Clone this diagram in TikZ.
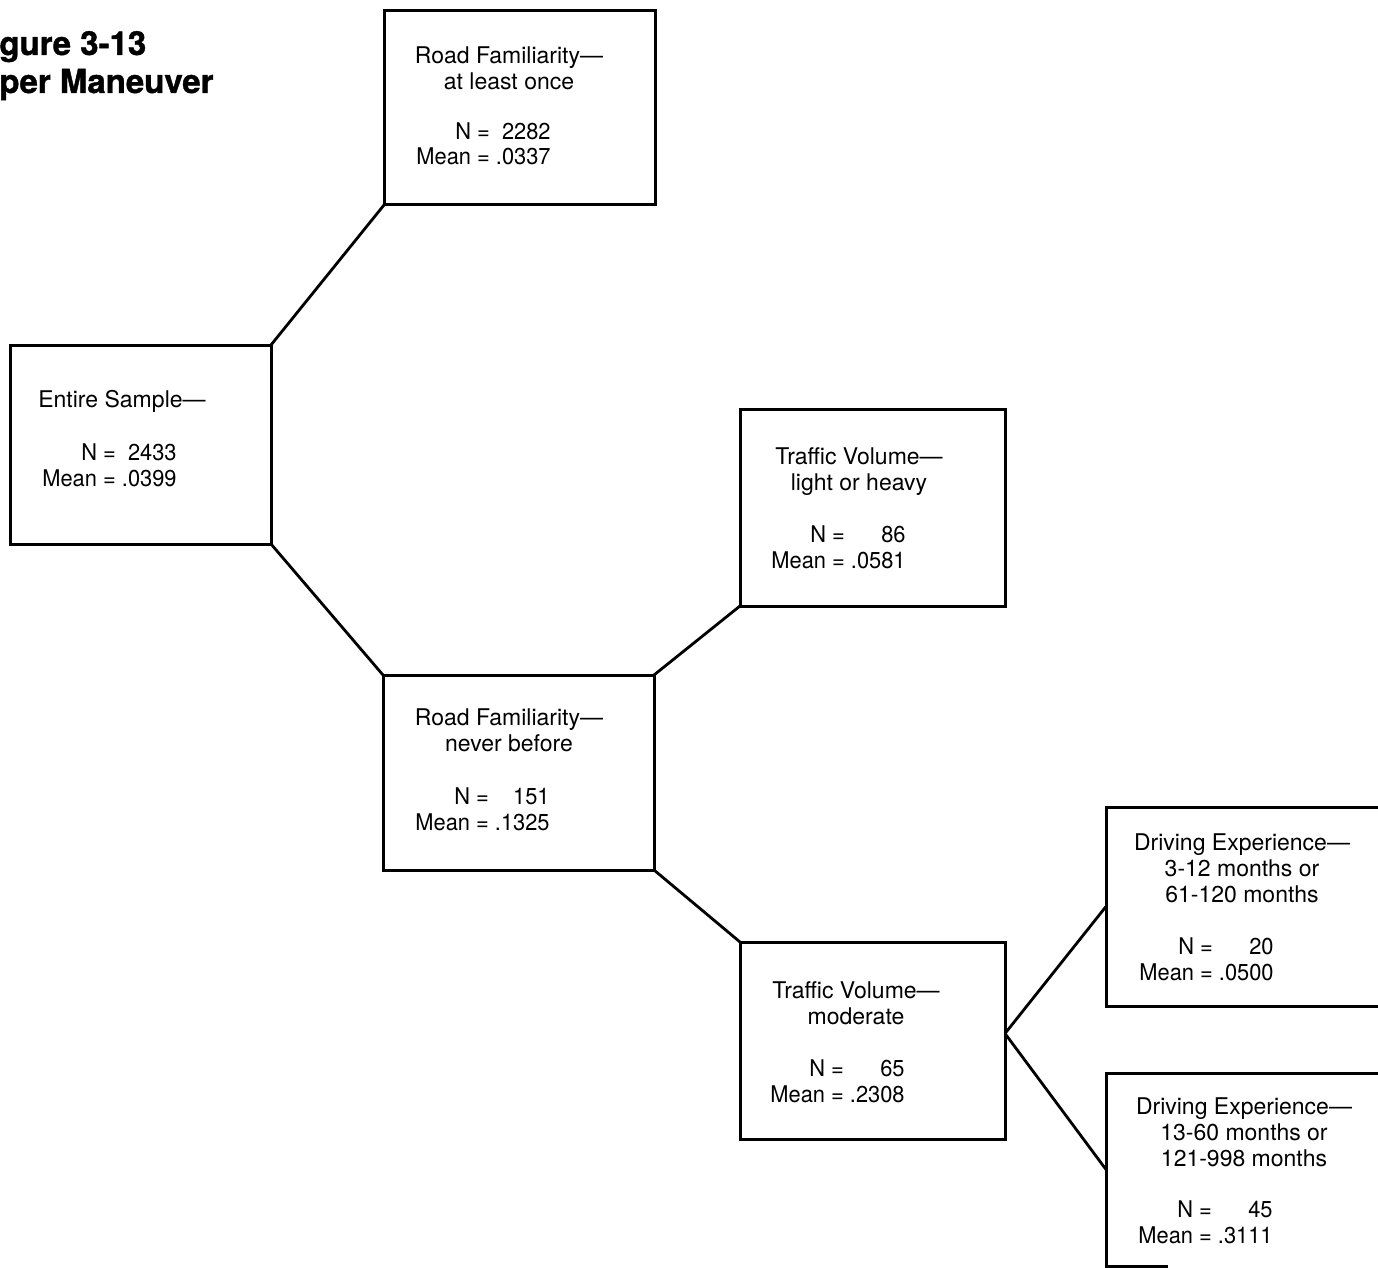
\documentclass[tikz,border=0pt]{standalone}
\usepackage{fontspec}
\setmainfont{TeX Gyre Heros}
\newfontfamily\headingfont[BoldFeatures={FakeBold=1.2}]{TeX Gyre Heros}
\newfontfamily\figuresfont[FakeStretch=0.95]{TeX Gyre Heros}
\usetikzlibrary{fit}

\tikzset{
  box/.style={rectangle, draw, line width=1.5pt, inner sep=0pt, outer sep=0pt},
  openbox/.style={rectangle, inner sep=0pt, outer sep=0pt},
  link/.style={line width=1.4pt},
  % multi-line heads: the base anchor sits on the last line
  head/.style={align=center, font=\fontsize{11.5}{13}\selectfont, inner sep=0pt, anchor=base},
  stats/.style={font=\figuresfont\fontsize{11.5}{13}\selectfont, inner sep=0pt, anchor=base west},
  caption/.style={font=\headingfont\fontsize{16.5}{19}\selectfont\bfseries, inner sep=0pt, anchor=base west}
}
% two stacked lines: N and Mean, values flush right
\newcommand\statlines[2]{\begin{tabular}[b]{@{}r@{ = }r@{}}N & #1\\ Mean & #2\end{tabular}}

\begin{document}
\begin{tikzpicture}[x=0.5pt, y=-0.5pt]
  \fill[white] (0,0) rectangle (1378,1268);
  \useasboundingbox (0,0) rectangle (1378,1268);

  % heading
  \node[caption] (figno) at (-1,55) {gure 3-13};
  \node[caption] (figname) at (-1,93) {per Maneuver};

  % boxes
  \node[box, fit={(384,11)(655,205)}] (famOnce) {};
  \node[box, fit={(10,345)(271,544)}] (all) {};
  \node[box, fit={(383,675)(654,870)}] (famNever) {};
  \node[box, fit={(740,409)(1005,606)}] (volLH) {};
  \node[box, fit={(740,942)(1005,1139)}] (volMod) {};
  \node[box, fit={(1106,807)(1390,1006)}] (expA) {};
  \node[openbox, fit={(1106,1073)(1390,1266)}] (expB) {};
  \draw[line width=1.5pt] (expB.north east) -- (expB.north west) -- (expB.south west) -- ++(62,0);

  % box texts
  \node[head] (famOnceHead) at (509,90) {Road Familiarity—\\at least once};
  \node[stats] (famOnceStats) at (416,165) {\statlines{2282}{.0337}};

  \node[head] (allHead) at (122,408) {Entire Sample—};
  \node[stats] (allStats) at (42,486) {\statlines{2433}{.0399}};

  \node[head] (famNeverHead) at (509,751) {Road Familiarity—\\never before};
  \node[stats] (famNeverStats) at (415,830) {\statlines{151}{.1325}};

  \node[head] (volLHHead) at (859,490) {Traffic Volume—\\light or heavy};
  \node[stats] (volLHStats) at (771,568) {\statlines{86}{.0581}};

  \node[head] (volModHead) at (856,1024) {Traffic Volume—\\moderate};
  \node[stats] (volModStats) at (770,1102) {\statlines{65}{.2308}};

  \node[head] (expAHead) at (1242,902) {Driving Experience—\\3-12 months or\\61-120 months};
  \node[stats] (expAStats) at (1139,980) {\statlines{20}{.0500}};

  \node[head] (expBHead) at (1244,1166) {Driving Experience—\\13-60 months or\\121-998 months};
  \node[stats] (expBStats) at (1138,1243) {\statlines{45}{.3111}};

  % tree branches
  \draw[link] (all.north east) -- (famOnce.south west);
  \draw[link] (all.south east) -- (famNever.north west);
  \draw[link] (famNever.north east) -- (volLH.south west);
  \draw[link] (famNever.south east) -- (volMod.north west);
  \coordinate (split) at ([yshift=3.5pt]volMod.east);
  \draw[link] (split) -- (expA.west);
  \draw[link] (split) -- (expB.west);
\end{tikzpicture}
\end{document}
